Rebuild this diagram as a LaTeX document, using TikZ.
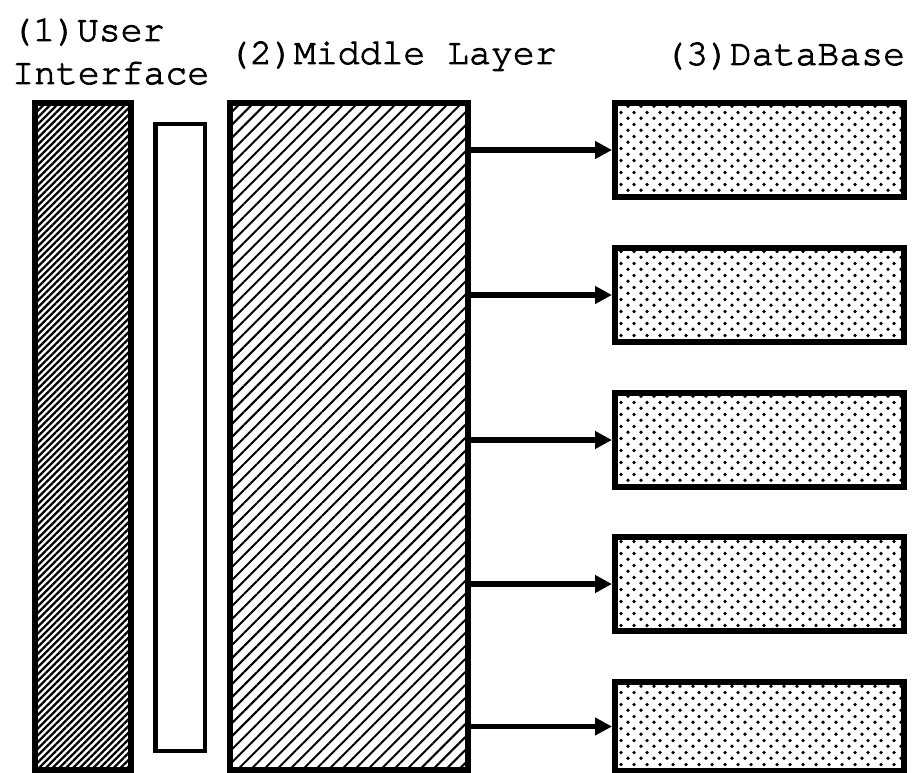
\documentclass[tikz,border=0pt]{standalone}
\usepackage{fontspec}
\newfontfamily\monofnt{TeX Gyre Cursor}[FakeBold=2.5]
\usetikzlibrary{patterns.meta,arrows.meta}
\tikzdeclarepattern{
  name=stagdots,
  type=uncolored,
  bounding box={(0pt,0pt) and (12.5pt,11.6pt)},
  tile size={(12.5pt,11.6pt)},
  code={
    \fill (3.125pt,2.9pt) circle (1.9pt);
    \fill (9.375pt,8.7pt) circle (1.9pt);
  }
}
\tikzset{
  lbl/.style={inner sep=0pt, anchor=base west, font=\monofnt\fontsize{36.5}{40}\selectfont},
  uibox/.style={draw, line width=6pt, rectangle, inner sep=0pt,
    pattern={Lines[angle=45,distance=4.8pt,line width=2.3pt]}},
  thinbox/.style={draw, line width=4.5pt, rectangle, inner sep=0pt, fill=white},
  midbox/.style={draw, line width=6pt, rectangle, inner sep=0pt,
    pattern={Lines[angle=45,distance=9.2pt,line width=2pt]}},
  dbbox/.style={draw, line width=6pt, rectangle, inner sep=0pt,
    minimum width=289pt, minimum height=94pt, pattern=stagdots},
  conn/.style={line width=5.5pt, -{Triangle[length=17pt,width=17pt]}}
}
\begin{document}
\begin{tikzpicture}[x=1pt,y=-1pt]
\useasboundingbox[fill=white] (0,0) rectangle (919,773);
% labels
\node[lbl] (l1a) at (11,41) {(1)User};
\node[lbl] (l1b) at (12,84) {Interface};
\node[lbl] (l2) at (228,64) {(2)Middle Layer};
\node[lbl] (l3) at (664,65) {(3)DataBase};
% boxes
\node[uibox, minimum width=96pt, minimum height=667pt] (ui) at (83,436.5) {};
\node[thinbox, minimum width=49.5pt, minimum height=626.5pt] (thin) at (180,437.5) {};
\node[midbox, minimum width=238pt, minimum height=667pt] (mid) at (349,436.5) {};
\node[dbbox] (db1) at (759.5,150) {};
\node[dbbox] (db2) at (759.5,295) {};
\node[dbbox] (db3) at (759.5,440) {};
\node[dbbox] (db4) at (759.5,584) {};
\node[dbbox, minimum height=89pt] (db5) at (759.5,726.5) {};
% connectors
\foreach \d in {db1,db2,db3,db4,db5}
  \draw[conn] (mid.east |- \d.west) -- (\d.west);
\end{tikzpicture}
\end{document}
